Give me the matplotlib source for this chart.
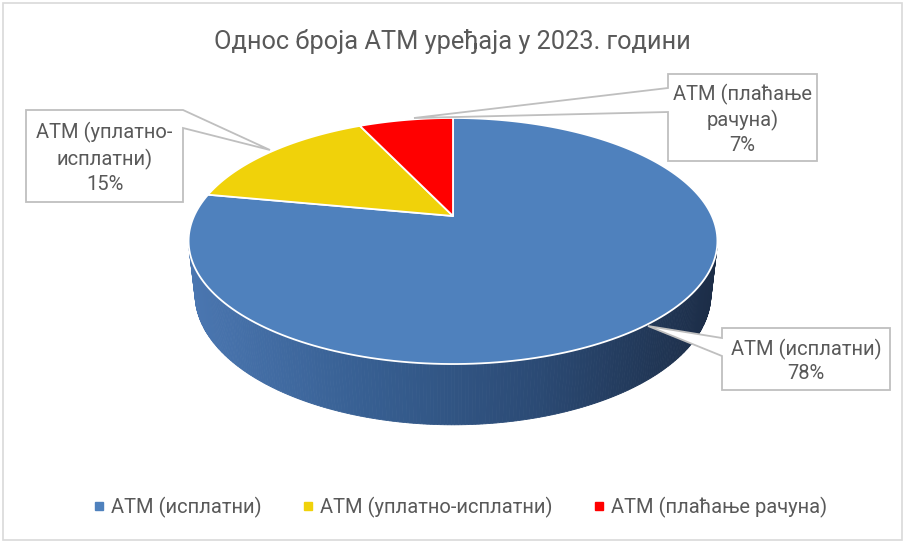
import numpy as np
import matplotlib.pyplot as plt
from matplotlib.patches import Polygon, Rectangle
from matplotlib.lines import Line2D
from matplotlib.colors import LinearSegmentedColormap

# data
title = "Однос броја АТМ уређаја у 2023. години"
legend_names = ["АТМ (исплатни)", "АТМ (уплатно-исплатни)", "АТМ (плаћање рачуна)"]
box_names = ["АТМ (исплатни)", "АТМ (уплатно-\nисплатни)", "АТМ (плаћање\nрачуна)"]
shares = [78, 15, 7]
colors = ["#4f81bd", "#f0d20a", "#ff0000"]

plt.rcParams["font.family"] = ["Roboto", "DejaVu Sans"]
grey_txt = "#595959"
grey_line = "#bfbfbf"

fig = plt.figure(figsize=(9.06, 5.44), dpi=100)
ax = fig.add_axes([0, 0, 1, 1])
ax.set_xlim(0, 906)
ax.set_ylim(544, 0)
ax.axis("off")

# outer frame
ax.add_patch(Rectangle((3, 3), 899, 537, fill=False, ec="#d9d9d9", lw=1.2))

# 3d projection of the pie (unit radius disc, viewed from above in perspective)
cx, cy = 453, 216
f, D = 1134, 4.38
elev = np.radians(27.1)
s, c = np.sin(elev), np.cos(elev)
depth = 0.232


def proj(theta, z=0.0):
    X = np.sin(theta)
    Y = np.cos(theta)
    w = D + Y * c - z * s
    return cx + f * X / w, cy - f * (Y * s + z * c) / w


# side wall (front part only)
th_sil = np.arccos(-1 / (D * c))
th = np.linspace(th_sil, 2 * np.pi - th_sil, 240)
xt, yt = proj(th, 0)
xb, yb = proj(th, -depth)
side_cmap = LinearSegmentedColormap.from_list(
    "side", ["#4a76b0", "#375f92", "#2b4a74", "#1c2d47"])
xmin, xmax = xt.min(), xt.max()
for i in range(len(th) - 1):
    quad = [(xt[i], yt[i]), (xt[i + 1], yt[i + 1]), (xb[i + 1], yb[i + 1]), (xb[i], yb[i])]
    col = side_cmap((0.5 * (xt[i] + xt[i + 1]) - xmin) / (xmax - xmin))
    ax.add_patch(Polygon(quad, closed=True, fc=col, ec=col, lw=0.6))

# top face slices
fracs = np.array(shares) / np.sum(shares)
bounds = np.concatenate([[0], np.cumsum(fracs)]) * 2 * np.pi
for i in range(len(shares)):
    t = np.linspace(bounds[i], bounds[i + 1], 200)
    px, py = proj(t, 0)
    pts = [(cx, cy)] + list(zip(px, py))
    ax.add_patch(Polygon(pts, closed=True, fc=colors[i], ec="white", lw=1.3, joinstyle="round"))

# data callouts: box (x0, y0, x1, y1), pointer attach y on box side, tip
callouts = [
    dict(box=(722, 328, 890, 390), side="left", att=(338, 356), tip=(648, 326)),
    dict(box=(26, 110, 183, 202), side="right", att=(110, 128), tip=(270, 150)),
    dict(box=(668, 74, 817, 161), side="left", att=(88, 112), tip=(414, 118)),
]
for i, cb in enumerate(callouts):
    x0, y0, x1, y1 = cb["box"]
    a0, a1 = cb["att"]
    tx, ty = cb["tip"]
    if cb["side"] == "left":
        pts = [(x0, y0), (x1, y0), (x1, y1), (x0, y1), (x0, a1), (tx, ty), (x0, a0)]
    else:
        pts = [(x0, y0), (x1, y0), (x1, a0), (tx, ty), (x1, a1), (x1, y1), (x0, y1)]
    ax.add_patch(Polygon(pts, closed=True, fc="white", ec=grey_line, lw=1.3, zorder=5))
    ax.text((x0 + x1) / 2, (y0 + y1) / 2 + 2, f"{box_names[i]}\n{shares[i]}%",
            ha="center", va="center", fontsize=14.5, color=grey_txt,
            linespacing=1.32, zorder=6)

ax.text(452, 41, title, ha="center", va="center", fontsize=18.3, color=grey_txt)

handles = [Line2D([], [], ls="none", marker="s", ms=5.5, mfc=col, mec=col) for col in colors]
fig.legend(handles, legend_names, loc="center", bbox_to_anchor=(0.508, 0.068),
           ncol=3, frameon=False, fontsize=14.5, labelcolor=grey_txt,
           handlelength=0.6, handletextpad=0.3, columnspacing=2.0)

fig.savefig("out.png", dpi=100)
